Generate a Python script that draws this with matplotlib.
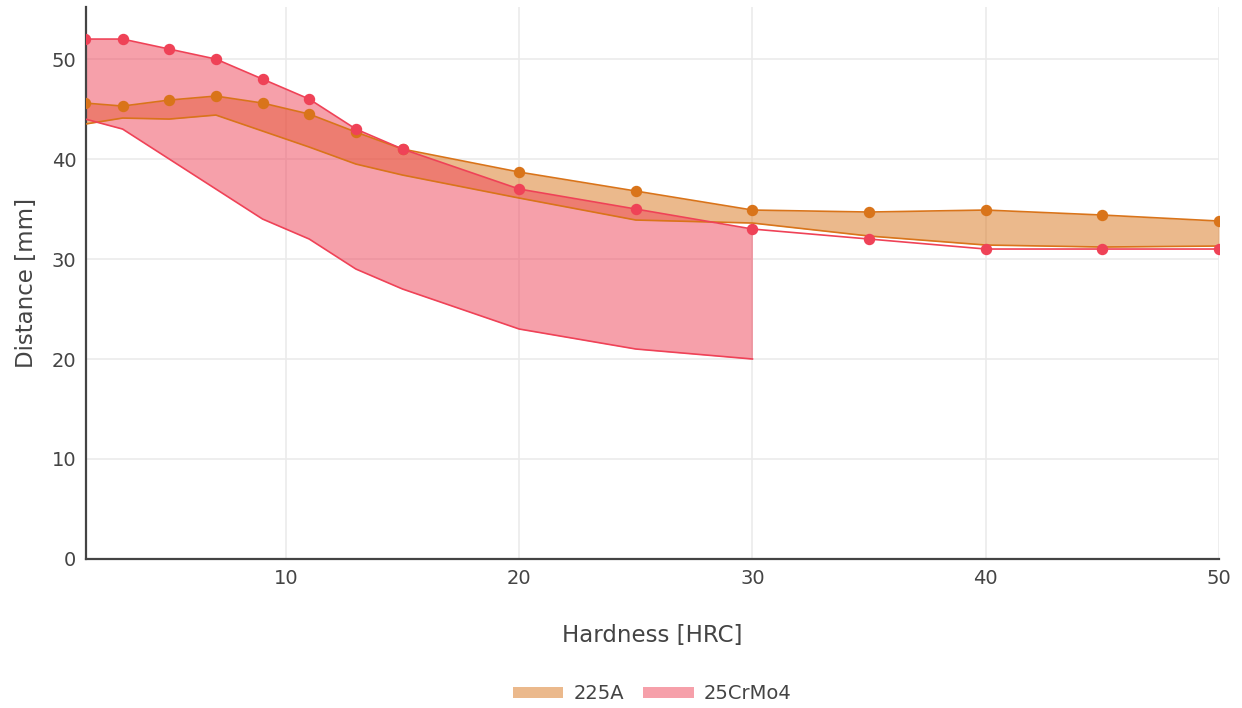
import numpy as np
import matplotlib.pyplot as plt
from matplotlib.patches import Patch

plt.rcParams["font.family"] = ["DejaVu Sans"]

# Hardness [HRC] sample points
hrc = [1.4, 3, 5, 7, 9, 11, 13, 15, 20, 25, 30, 35, 40, 45, 50]

# 225A band
a225_upper = [45.6, 45.3, 45.9, 46.3, 45.6, 44.5, 42.7, 41.0, 38.7, 36.8, 34.9, 34.7, 34.9, 34.4, 33.8]
a225_lower = [43.5, 44.1, 44.0, 44.4, 42.8, 41.2, 39.5, 38.4, 36.1, 33.9, 33.6, 32.3, 31.4, 31.2, 31.3]

# 25CrMo4 band (lower limit only defined up to 30 HRC)
crmo_upper = [52.0, 52.0, 51.0, 50.0, 48.0, 46.0, 43.0, 41.0, 37.0, 35.0, 33.0, 32.0, 31.0, 31.0, 31.0]
crmo_hrc_lower = [1.4, 3, 5, 7, 9, 11, 13, 15, 20, 25, 30]
crmo_lower = [44.0, 43.0, 40.0, 37.0, 34.0, 32.0, 29.0, 27.0, 23.0, 21.0, 20.0]

ORANGE = "#D9741A"
PINK = "#EF4257"
TXT = "#444444"

fig = plt.figure(figsize=(12.42, 7.08), dpi=100)
ax = fig.add_axes([0.0692, 0.2105, 0.9123, 0.7795])

n = len(crmo_hrc_lower)
ax.fill_between(hrc, a225_lower, a225_upper, color=ORANGE, alpha=0.5, lw=0, zorder=2)
ax.fill_between(crmo_hrc_lower, crmo_lower, crmo_upper[:n], color=PINK, alpha=0.5, lw=0, zorder=2)

ax.plot(hrc, a225_lower, color=ORANGE, lw=1.2, zorder=3)
ax.plot(hrc, a225_upper, color=ORANGE, lw=1.2, marker="o", ms=7.2, zorder=3)
ax.plot(crmo_hrc_lower, crmo_lower, color=PINK, lw=1.2, zorder=4)
ax.plot(hrc, crmo_upper, color=PINK, lw=1.2, marker="o", ms=7.2, zorder=4)

ax.set_xlim(1.43, 50)
ax.set_ylim(0, 55.2)
ax.set_xticks([10, 20, 30, 40, 50])
ax.set_yticks([0, 10, 20, 30, 40, 50])
ax.grid(True, color="#EBEBEB", lw=1.2, zorder=0)
ax.set_axisbelow(True)
ax.tick_params(length=0, labelsize=14, colors=TXT, pad=7)

for s in ["top", "right"]:
    ax.spines[s].set_visible(False)
for s in ["left", "bottom"]:
    ax.spines[s].set_color(TXT)
    ax.spines[s].set_linewidth(1.6)

ax.set_xlabel("Hardness [HRC]", fontsize=16.5, color=TXT, labelpad=26)
ax.set_ylabel("Distance [mm]", fontsize=16.5, color=TXT, labelpad=10)

handles = [Patch(facecolor=ORANGE, alpha=0.5, edgecolor="none", label="225A"),
           Patch(facecolor=PINK, alpha=0.5, edgecolor="none", label="25CrMo4")]
fig.legend(handles=handles, loc="center", bbox_to_anchor=(0.525, 0.02), ncol=2,
           frameon=False, fontsize=14, labelcolor=TXT, handlelength=2.6,
           handleheight=0.45, columnspacing=1.0, handletextpad=0.5)

fig.savefig("out.png", dpi=100, facecolor="white")
